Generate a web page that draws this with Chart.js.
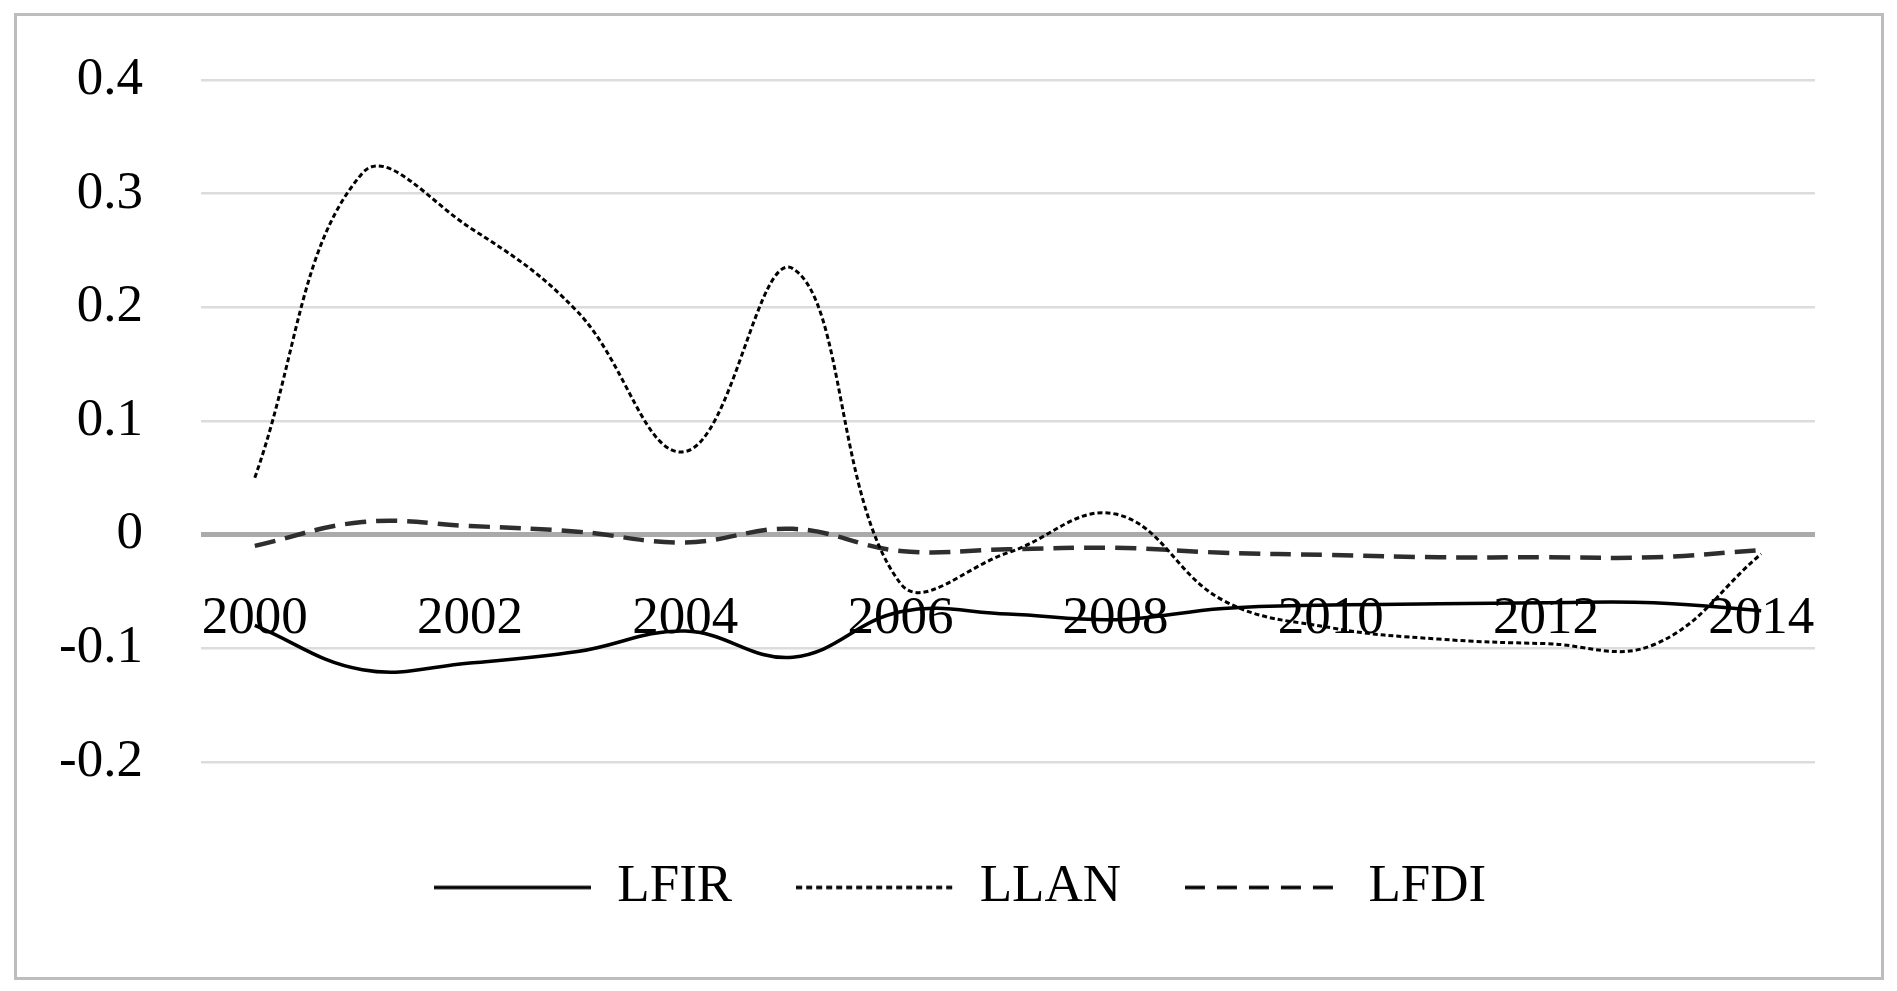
<!DOCTYPE html>
<html>
<head>
<meta charset="utf-8">
<title>LFIR LLAN LFDI</title>
<script src="https://cdn.jsdelivr.net/npm/chart.js@4.4.1/dist/chart.umd.min.js"></script>
<style>
  html, body { margin: 0; padding: 0; background: #fff; }
  .frame {
    position: absolute; left: 14px; top: 13px; width: 1870px; height: 967px;
    box-sizing: border-box; border: 3px solid #bdbdbd;
  }
  .wrap { position: absolute; left: 0; top: 0; width: 1897px; height: 991px; }
</style>
</head>
<body>
<div class="frame"></div>
<div class="wrap"><canvas id="chart"></canvas></div>
<script>
// years on the category axis, only every other one is labelled
const years = ['2000', '2001', '2002', '2003', '2004', '2005', '2006', '2007',
  '2008', '2009', '2010', '2011', '2012', '2013', '2014'];
const yearTicks = ['2000', '2002', '2004', '2006', '2008', '2010', '2012', '2014'];

// values
const lfir = [-0.080, -0.119, -0.113, -0.103, -0.085, -0.108, -0.068, -0.070,
  -0.075, -0.065, -0.062, -0.061, -0.060, -0.060, -0.067];
const llan = [0.050, 0.318, 0.270, 0.196, 0.073, 0.234, -0.043, -0.016,
  0.018, -0.058, -0.082, -0.092, -0.096, -0.097, -0.017];
const lfdi = [-0.010, 0.011, 0.0075, 0.0025, -0.007, 0.005, -0.0145, -0.013,
  -0.0117, -0.016, -0.018, -0.020, -0.020, -0.020, -0.0137];

const fontFamily = "'Liberation Serif', 'Times New Roman', serif";
const legendLineWidth = 157;

// legend swatch: a short stroke in the series' line style
function legendSwatch(color, width, dash) {
  const c = document.createElement('canvas');
  c.width = legendLineWidth;
  c.height = 8;
  const ctx = c.getContext('2d');
  ctx.strokeStyle = color;
  ctx.lineWidth = width;
  ctx.setLineDash(dash);
  ctx.beginPath();
  ctx.moveTo(0, 4);
  ctx.lineTo(legendLineWidth, 4);
  ctx.stroke();
  return c;
}

const isZero = (ctx) => ctx.tick && Math.abs(ctx.tick.value) < 1e-9;

new Chart(document.getElementById('chart'), {
  type: 'line',
  data: {
    labels: years,
    datasets: [
      {
        label: 'LFIR',
        data: lfir,
        borderColor: '#000',
        borderWidth: 3.5,
        pointStyle: legendSwatch('#000', 3.5, []),
      },
      {
        label: 'LLAN',
        data: llan,
        borderColor: '#000',
        borderWidth: 3,
        borderDash: [5, 3],
        pointStyle: legendSwatch('#000', 3.5, [6, 4]),
      },
      {
        label: 'LFDI',
        data: lfdi,
        borderColor: '#2e2e2e',
        borderWidth: 4.5,
        borderDash: [21, 10],
        pointStyle: legendSwatch('#000', 3.5, [20, 12]),
      },
    ],
  },
  options: {
    responsive: true,
    maintainAspectRatio: false,
    animation: false,
    elements: {
      point: { radius: 0, hoverRadius: 0 },
      line: { tension: 0.4, fill: false },
    },
    layout: {
      padding: { left: 40, right: 17, top: 80, bottom: 67 },
    },
    scales: {
      x: {
        type: 'category',
        offset: true,
        position: { y: 0 },
        grid: { display: false },
        border: { display: false },
        ticks: {
          autoSkip: false,
          maxRotation: 0,
          padding: 45,
          color: '#000',
          font: { family: fontFamily, size: 53 },
          callback: function (value) {
            const year = this.getLabelForValue(value);
            return yearTicks.includes(year) ? year : '';
          },
        },
      },
      y: {
        min: -0.2,
        max: 0.4,
        afterFit: (scale) => { scale.width = 161; },
        border: { display: false },
        grid: {
          // invisible tick marks keep the labels away from the plot
          tickLength: 58,
          tickColor: 'rgba(0,0,0,0)',
          color: (ctx) => (isZero(ctx) ? '#aaaaaa' : '#dcdcdc'),
          lineWidth: (ctx) => (isZero(ctx) ? 5 : 2.5),
        },
        ticks: {
          stepSize: 0.1,
          padding: 0,
          color: '#000',
          font: { family: fontFamily, size: 53 },
          callback: (value) => String(Math.round(value * 10) / 10),
        },
      },
      // empty right-hand strip so the plot ends where the original does
      spacer: {
        position: 'right',
        afterFit: (scale) => { scale.width = 65; },
        grid: { display: false },
        border: { display: false },
        ticks: { display: false },
      },
    },
    plugins: {
      tooltip: { enabled: false },
      legend: {
        position: 'bottom',
        title: {
          display: true,
          text: ' ',
          font: { size: 1 },
          padding: { top: 34, bottom: 0 },
        },
        labels: {
          usePointStyle: true,
          pointStyleWidth: legendLineWidth,
          padding: 64,
          color: '#000',
          font: { family: fontFamily, size: 53 },
        },
      },
    },
  },
});
</script>
</body>
</html>
